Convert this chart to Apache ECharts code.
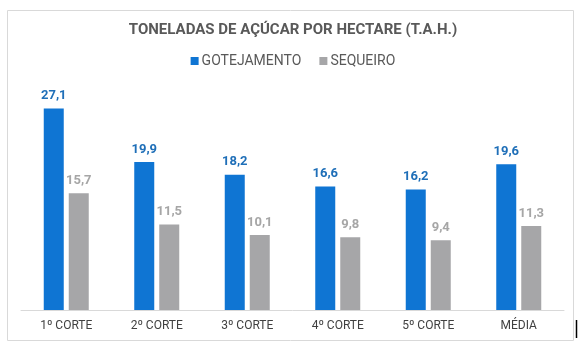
<!DOCTYPE html>
<html>
<head>
<meta charset="utf-8">
<script src="https://cdn.jsdelivr.net/npm/echarts@6/dist/echarts.min.js"></script>
<style>
  html, body { margin: 0; padding: 0; background: #fff; }
  #chart { width: 586px; height: 351px; }
</style>
</head>
<body>
<div id="chart"></div>
<script>
  // dados do gráfico
  var categorias = ['1º CORTE', '2º CORTE', '3º CORTE', '4º CORTE', '5º CORTE', 'MÉDIA'];
  var gotejamento = [27.1, 19.9, 18.2, 16.6, 16.2, 19.6];
  var sequeiro = [15.7, 11.5, 10.1, 9.8, 9.4, 11.3];

  var chart = echarts.init(document.getElementById('chart'));

  function fmt(p) {
    return String(p.value.toFixed(1)).replace('.', ',');
  }

  chart.setOption({
    animation: false,
    textStyle: { fontFamily: 'Roboto' },
    title: {
      text: 'TONELADAS DE AÇÚCAR POR HECTARE (T.A.H.)',
      left: 'center',
      top: 18,
      textStyle: { fontSize: 15, fontWeight: 'bold', color: '#595959', fontFamily: 'Roboto' }
    },
    legend: {
      top: 49,
      left: 'center',
      itemWidth: 8,
      itemHeight: 8,
      itemGap: 18,
      icon: 'rect',
      textStyle: { fontSize: 14, color: '#595959', padding: [0, 0, 0, -2] },
      data: ['GOTEJAMENTO', 'SEQUEIRO']
    },
    grid: { left: 21, right: 22, top: 87, bottom: 41 },
    xAxis: {
      type: 'category',
      data: categorias,
      axisLine: { lineStyle: { color: '#d9d9d9' } },
      axisTick: { show: false },
      axisLabel: { color: '#404040', fontSize: 12, margin: 10 }
    },
    yAxis: {
      type: 'value',
      min: 0,
      max: 30,
      show: false,
      splitLine: { show: false }
    },
    series: [
      {
        name: 'GOTEJAMENTO',
        type: 'bar',
        data: gotejamento,
        barWidth: 20,
        barGap: '25%',
        itemStyle: { color: '#0f75d3' },
        label: { show: true, position: 'top', formatter: fmt, color: '#1f6fb8', fontWeight: 'bold', fontSize: 13, distance: 6 }
      },
      {
        name: 'SEQUEIRO',
        type: 'bar',
        data: sequeiro,
        barWidth: 20,
        itemStyle: { color: '#a6a6a8' },
        label: { show: true, position: 'top', formatter: fmt, color: '#a6a6a6', fontWeight: 'bold', fontSize: 13, distance: 6 }
      }
    ],
    graphic: [
      {
        type: 'rect',
        shape: { x: 7.5, y: 10.5, width: 566, height: 330 },
        style: { fill: 'none', stroke: '#d9d9d9', lineWidth: 1 },
        silent: true
      },
      {
        type: 'line',
        shape: { x1: 576.5, y1: 320, x2: 576.5, y2: 338 },
        style: { stroke: '#000', lineWidth: 1.5 },
        silent: true
      }
    ]
  });
</script>
</body>
</html>
